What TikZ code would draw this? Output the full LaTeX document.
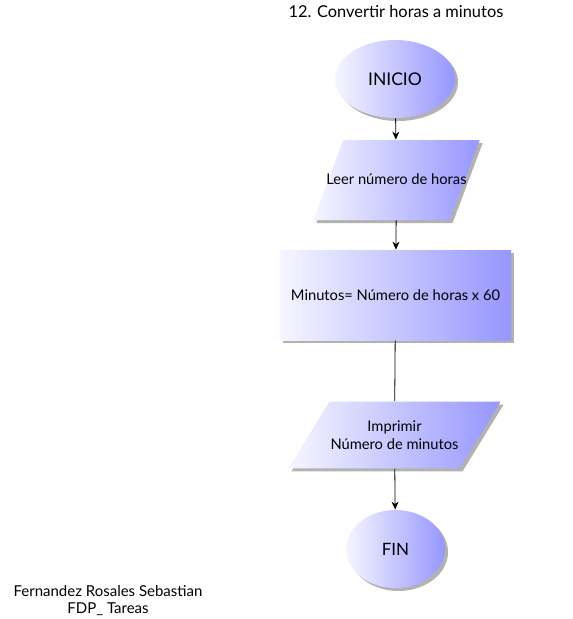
\documentclass[tikz,border=0pt]{standalone}
\usepackage{fontspec}
\setmainfont{Lato}
\usetikzlibrary{shapes.geometric,shadows,arrows.meta,positioning}
\definecolor{shadeleft}{RGB}{246,246,255}
\definecolor{shaderight}{RGB}{150,150,255}

\begin{document}
\begin{tikzpicture}[x=1pt,y=-1pt,>={Stealth[length=8pt,width=7pt]},line width=0.8pt,
    block/.style={left color=shadeleft,right color=shaderight,
      drop shadow={shadow xshift=3pt,shadow yshift=-3pt,fill=black!30,opacity=1},
      font=\fontsize{14.7}{18}\selectfont,align=center,inner sep=0pt},
    terminal/.style={block,ellipse},
    io/.style={block,trapezium},
    process/.style={block,rectangle}]

  \useasboundingbox (0,0) rectangle (573,619);

  \node[font=\fontsize{16.4}{20}\selectfont] (title) at (396,12) {12. Convertir horas a minutos};

  % Flow
  \node[terminal,minimum width=120,minimum height=78,
    font=\fontsize{17.5}{20}\selectfont] (inicio) at (395,79) {INICIO};
  \node[io,trapezium left angle=69.4,trapezium right angle=110.6,
    inner xsep=-17pt,inner ysep=33pt,text height=11pt,text depth=3pt]
    (leer) at (396.5,180) {Leer número de horas};
  \node[process,minimum width=231,minimum height=90] (calc) at (395.5,295)
    {Minutos= Número de horas x 60};
  \node[io,trapezium left angle=58.4,trapezium right angle=121.6,
    inner xsep=1pt,inner ysep=19pt] (imprimir) at (394.5,435)
    {Imprimir\\Número de minutos};
  \node[terminal,minimum width=99,minimum height=78,
    font=\fontsize{17}{20}\selectfont] (fin) at (395.5,549) {FIN};

  % Connectors
  \draw[->] (inicio) -- (leer);
  \draw[->] (leer) -- (calc);
  \draw (calc) -- (imprimir);
  \draw[->] (imprimir) -- (fin);

  \node[font=\fontsize{15}{17}\selectfont,align=center] (autor) at (108,601)
    {Fernandez Rosales Sebastian\\FDP\_ Tareas};

\end{tikzpicture}
\end{document}
